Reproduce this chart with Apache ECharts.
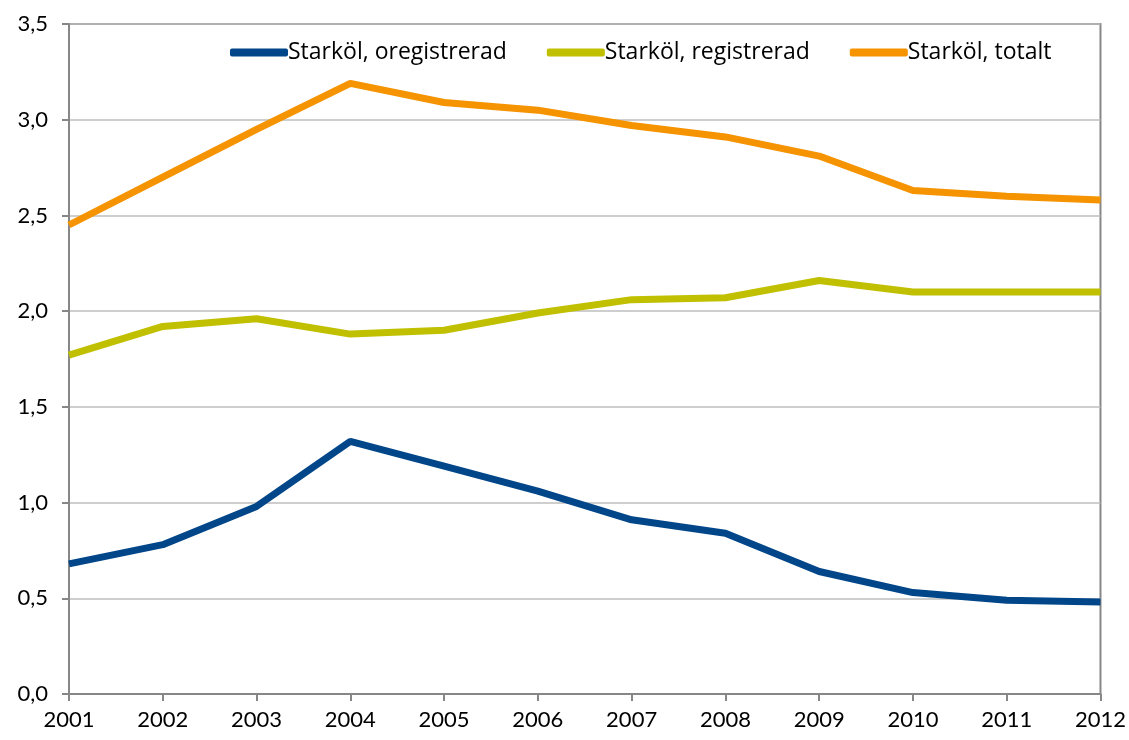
<!DOCTYPE html>
<html>
<head>
<meta charset="utf-8">
<script src="https://cdn.jsdelivr.net/npm/echarts@6/dist/echarts.min.js"></script>
<style>
  html, body { margin: 0; padding: 0; background: #fff; }
  #chart { width: 1129px; height: 740px; }
</style>
</head>
<body>
<div id="chart"></div>
<script>
const years = ['2001', '2002', '2003', '2004', '2005', '2006', '2007', '2008', '2009', '2010', '2011', '2012']
const oregistrerad = [0.68, 0.78, 0.98, 1.32, 1.19, 1.06, 0.91, 0.84, 0.64, 0.53, 0.49, 0.48]
const registrerad = [1.77, 1.92, 1.96, 1.88, 1.90, 1.99, 2.06, 2.07, 2.16, 2.10, 2.10, 2.10]
const totalt = [2.45, 2.70, 2.95, 3.19, 3.09, 3.05, 2.97, 2.91, 2.81, 2.63, 2.60, 2.58]

const font = 'Lato, "Open Sans", sans-serif'
const legendFont = '"Open Sans", Lato, sans-serif'

function makeSeries(name, data, color) {
    return {
        name: name,
        type: 'line',
        data: data,
        symbol: 'none',
        color: color,
        lineStyle: { width: 7, color: color },
        emphasis: { disabled: true }
    }
}

const chart = echarts.init(document.getElementById('chart'))
chart.setOption({
    animation: false,
    textStyle: { fontFamily: font },
    grid: {
        left: 69, right: 28, top: 24, bottom: 46,
        show: true,
        borderColor: '#878787',
        borderWidth: 2
    },
    legend: {
        top: 36,
        left: 225,
        itemWidth: 58,
        itemHeight: 8,
        itemGap: 40,
        icon: 'roundRect',
        textStyle: { fontSize: 23, color: '#000', fontFamily: legendFont, padding: [0, 0, 0, -5] },
        data: ['Starköl, oregistrerad', 'Starköl, registrerad', 'Starköl, totalt']
    },
    xAxis: {
        type: 'category',
        data: years,
        boundaryGap: false,
        axisLine: { lineStyle: { color: '#878787', width: 2 } },
        axisTick: { show: true, alignWithLabel: true, length: 7, lineStyle: { color: '#878787', width: 2 } },
        axisLabel: { color: '#000', fontSize: 22, margin: 15, fontFamily: font },
        splitLine: { show: false }
    },
    yAxis: {
        type: 'value',
        min: 0,
        max: 3.5,
        interval: 0.5,
        axisLine: { show: true, lineStyle: { color: '#878787', width: 2 } },
        axisTick: { show: true, length: 7, lineStyle: { color: '#878787', width: 2 } },
        axisLabel: {
            color: '#000', fontSize: 22, margin: 21, fontFamily: font,
            formatter: v => v.toFixed(1).replace('.', ',')
        },
        splitLine: { lineStyle: { color: '#BEBEBE', width: 1.5 } }
    },
    series: [
        makeSeries('Starköl, oregistrerad', oregistrerad, '#02468A'),
        makeSeries('Starköl, registrerad', registrerad, '#C0C000'),
        makeSeries('Starköl, totalt', totalt, '#F59300')
    ]
})
</script>
</body>
</html>
